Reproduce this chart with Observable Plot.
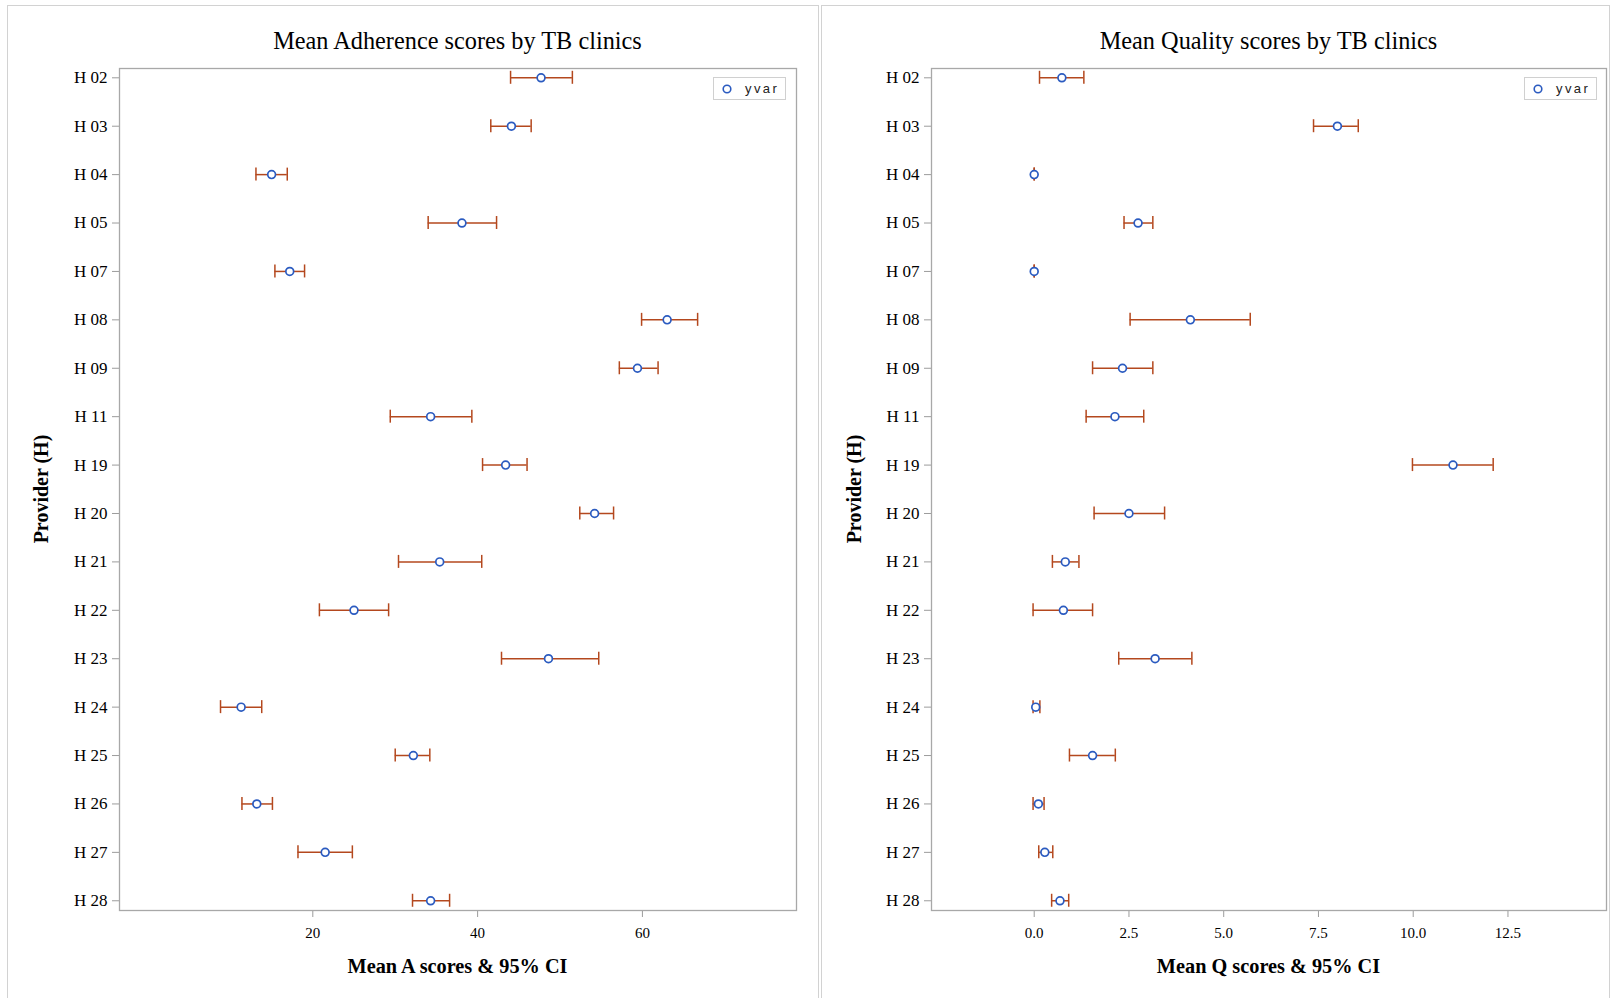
<!DOCTYPE html>
<html>
<head>
<meta charset="utf-8">
<script src="https://cdn.jsdelivr.net/npm/d3@7"></script>
<script src="https://cdn.jsdelivr.net/npm/@observablehq/plot@0.6"></script>
<style>
  html, body { margin: 0; padding: 0; background: #fff; }
  body { position: relative; width: 1611px; height: 998px; overflow: hidden;
         font-family: "Liberation Serif", "Times New Roman", serif; color: #000; }
  .panel { position: absolute; border: 1px solid #d2d2d2; box-sizing: border-box; }
  .chart { position: absolute; top: 0; }
  .chart svg { overflow: visible; }
  .chart [aria-label$="axis"] line,
  .chart [aria-label$="axis tick"] path { stroke: #9c9c9c; }
  .chart [aria-label^="y-axis"] text { font-size: 17px; }
  .title { position: absolute; font-size: 24.3px; white-space: nowrap; transform: translate(-50%, -50%); }
  .xlabel { position: absolute; font-size: 20.3px; font-weight: bold; white-space: nowrap; transform: translate(-50%, -50%); }
  .ylabel { position: absolute; font-size: 20px; font-weight: bold; white-space: nowrap;
            transform: translate(-50%, -50%) rotate(-90deg); }
  .legend { position: absolute; width: 73px; height: 23px; box-sizing: border-box; border: 1px solid #d0d0d0;
            font-family: "Liberation Sans", Arial, sans-serif; font-size: 13px; letter-spacing: 2.4px; color: #222; }
  .legend svg { position: absolute; left: 7px; top: 5px; }
  .legend span { position: absolute; left: 31px; top: 3px; }
</style>
</head>
<body>
<script>
// Clinics (providers), top to bottom
const providers = ["H 02","H 03","H 04","H 05","H 07","H 08","H 09","H 11","H 19",
                   "H 20","H 21","H 22","H 23","H 24","H 25","H 26","H 27","H 28"];

// Mean adherence score with 95% confidence limits
const adherenceMean  = [47.7, 44.1, 15.0, 38.1, 17.2, 63.0, 59.4, 34.3, 43.4, 54.2, 35.4, 25.0, 48.6, 11.3, 32.2, 13.2, 21.5, 34.3];
const adherenceLower = [44.0, 41.6, 13.1, 34.0, 15.4, 59.9, 57.2, 29.4, 40.6, 52.4, 30.4, 20.8, 42.9,  8.8, 30.0, 11.4, 18.2, 32.1];
const adherenceUpper = [51.5, 46.5, 16.9, 42.3, 19.0, 66.7, 61.9, 39.3, 46.0, 56.5, 40.5, 29.2, 54.7, 13.8, 34.2, 15.1, 24.8, 36.6];

// Mean quality score with 95% confidence limits
const qualityMean  = [0.73, 8.00, 0.00, 2.74, 0.00, 4.12, 2.33, 2.13, 11.05, 2.50, 0.82,  0.77, 3.19,  0.04, 1.54,  0.11, 0.28, 0.68];
const qualityLower = [0.14, 7.37, 0.00, 2.37, 0.00, 2.53, 1.54, 1.37,  9.98, 1.58, 0.48, -0.03, 2.23, -0.03, 0.93, -0.03, 0.12, 0.46];
const qualityUpper = [1.31, 8.55, 0.00, 3.13, 0.00, 5.70, 3.13, 2.89, 12.11, 3.44, 1.18,  1.54, 4.16,  0.15, 2.14,  0.26, 0.49, 0.91];

// Axis ticks
const adherenceTicks = [20, 40, 60];
const qualityTicks = [0, 2.5, 5, 7.5, 10, 12.5];

const markerColor = "#2b5bc0";
const errorColor = "#b4481e";

// One row per clinic; rows sit 48.4px apart, first at y=77.3
const rowStep = 48.41;
const firstRow = 77.3;
const capHeight = 13;

function ciPlot({mean, lower, upper, domain, ticks, tickFormat, width, marginLeft, marginRight}) {
  const rows = providers.map((p, i) => ({provider: p, mean: mean[i], lo: lower[i], hi: upper[i]}));
  const capInset = (rowStep - capHeight) / 2;
  return Plot.plot({
    width,
    height: 998,
    marginTop: 68,
    marginBottom: 88,
    marginLeft,
    marginRight,
    style: {fontFamily: "'Liberation Serif', 'Times New Roman', serif", fontSize: "15px", background: "transparent", color: "#000"},
    x: {domain, ticks, tickFormat, tickSize: 7, tickPadding: 10, label: null},
    y: {type: "band", domain: providers, padding: 0, round: false,
        range: [firstRow - rowStep / 2, firstRow + rowStep * 17.5],
        tickSize: 7, tickPadding: 5, label: null},
    marks: [
      Plot.frame({stroke: "#a8a8a8", strokeWidth: 1.3}),
      Plot.ruleY(rows, {y: "provider", x1: "lo", x2: "hi", stroke: errorColor, strokeWidth: 1.5}),
      Plot.tickX(rows, {x: "lo", y: "provider", stroke: errorColor, strokeWidth: 1.5, insetTop: capInset, insetBottom: capInset}),
      Plot.tickX(rows, {x: "hi", y: "provider", stroke: errorColor, strokeWidth: 1.5, insetTop: capInset, insetBottom: capInset}),
      Plot.dot(rows, {x: "mean", y: "provider", r: 3.9, stroke: markerColor, strokeWidth: 1.7, fill: "white"})
    ]
  });
}

function addDiv(cls, text, left, top) {
  const d = document.createElement("div");
  d.className = cls;
  d.textContent = text;
  d.style.left = left + "px";
  d.style.top = top + "px";
  document.body.appendChild(d);
  return d;
}

function addPanel(left, width) {
  const p = document.createElement("div");
  p.className = "panel";
  p.style.left = left + "px";
  p.style.top = "5px";
  p.style.width = width + "px";
  p.style.height = "1000px";
  document.body.appendChild(p);
}

function addLegend(left, top) {
  const d = document.createElement("div");
  d.className = "legend";
  d.style.left = left + "px";
  d.style.top = top + "px";
  d.innerHTML = `<svg width="12" height="12"><circle cx="6" cy="6" r="3.8" fill="white" stroke="${markerColor}" stroke-width="1.6"/></svg><span>yvar</span>`;
  document.body.appendChild(d);
}

addPanel(7, 812);
addPanel(821, 789);

// Adherence panel
const left = document.createElement("div");
left.className = "chart";
left.style.left = "0px";
left.appendChild(ciPlot({
  mean: adherenceMean, lower: adherenceLower, upper: adherenceUpper,
  domain: [-3.46, 78.7], ticks: adherenceTicks, tickFormat: d3.format("d"),
  width: 820, marginLeft: 119, marginRight: 24
}));
document.body.appendChild(left);

// Quality panel
const right = document.createElement("div");
right.className = "chart";
right.style.left = "820px";
right.appendChild(ciPlot({
  mean: qualityMean, lower: qualityLower, upper: qualityUpper,
  domain: [-2.71, 15.1], ticks: qualityTicks, tickFormat: d3.format(".1f"),
  width: 791, marginLeft: 111, marginRight: 5
}));
document.body.appendChild(right);

addDiv("title", "Mean Adherence scores by TB clinics", 457.5, 41);
addDiv("title", "Mean Quality scores by TB clinics", 1268.5, 41);
addDiv("xlabel", "Mean A scores & 95% CI", 457.5, 966);
addDiv("xlabel", "Mean Q scores & 95% CI", 1268.5, 966);
addDiv("ylabel", "Provider (H)", 41, 489);
addDiv("ylabel", "Provider (H)", 854, 489);

addLegend(713, 77);
addLegend(1524, 77);
</script>
</body>
</html>
